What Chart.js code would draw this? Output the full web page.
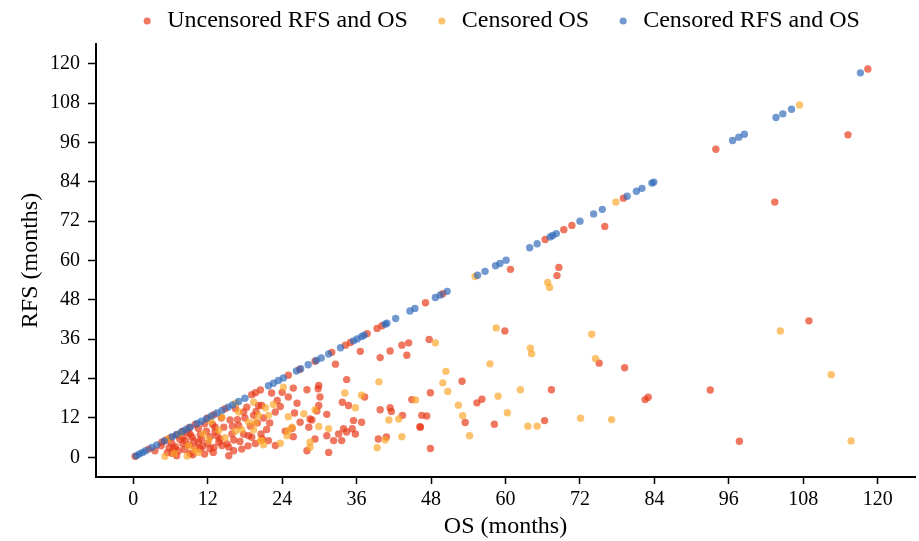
<!DOCTYPE html>
<html>
<head>
<meta charset="utf-8">
<script src="https://cdn.jsdelivr.net/npm/chart.js@4.4.1/dist/chart.umd.min.js"></script>
<style>
  html, body { margin: 0; padding: 0; background: #ffffff; }
  #wrap { width: 919px; height: 541px; position: relative; }
</style>
</head>
<body>
<div id="wrap"><canvas id="c" width="919" height="541"></canvas></div>
<script>
// ---- Data (months): [OS, RFS] ----
const seriesNames = ["Uncensored RFS and OS", "Censored OS", "Censored RFS and OS"];
const tickValues = [0, 12, 24, 36, 48, 60, 72, 84, 96, 108, 120];

const uncensoredPts = [
  [0.3,0.3],[2.5,2.5],[4.6,4.6],[5.3,5.3],[6.0,6.0],[8.0,8.0],[9.0,9.0],[10.0,10.0],[12.0,12.0],[13.0,13.0],
  [14.8,14.8],[19.1,19.1],[19.7,19.7],[20.5,20.5],[25.0,25.0],[26.8,26.8],[29.3,29.3],[32.0,32.0],[34.2,34.2],
  [35.0,35.0],[37.7,37.7],[39.3,39.3],[40.1,40.1],[47.1,47.1],[49.9,49.9],[66.4,66.4],[69.4,69.4],[70.7,70.7],
  [79.0,79.0],[93.9,93.9],[118.4,118.4],
  [7.0,0.5],[9.2,1.2],[7.3,2.0],[6.5,2.6],[6.2,4.3],[8.0,4.1],[8.4,5.1],[10.0,3.1],[10.8,2.6],[12.4,2.6],
  [10.5,4.6],[12.4,6.3],[9.5,6.1],[8.0,6.1],[14.0,5.6],[14.3,3.6],[15.4,3.1],[15.4,0.5],[15.9,7.1],[15.1,4.1],
  [14.6,9.2],[15.6,11.4],[17.0,9.7],[18.0,12.0],[19.4,12.8],[18.6,6.6],[19.1,6.1],[20.2,15.8],[18.3,15.3],
  [16.5,14.8],[20.6,7.1],[13.2,9.2],
  [4.5,3.5],[5.5,1.5],[6.8,3.2],[7.5,5.5],[9.0,3.8],[9.8,5.0],[11.0,5.5],[11.5,1.0],[12.0,4.2],[13.0,3.0],
  [13.5,6.5],[11.8,8.0],[10.5,8.8],[12.8,10.0],[14.2,12.0],[16.2,5.3],[17.5,2.5],[17.8,7.0],[20.0,10.5],
  [18.9,9.5],[16.8,11.5],[8.8,7.5],[7.0,6.8],
  [3.5,2.0],[5.8,3.0],[6.3,1.2],[8.3,2.4],[9.6,0.8],[11.2,3.4],[12.9,1.5],[13.8,4.6],[16.2,2.0],[17.2,4.8],
  [18.5,3.5],[19.7,4.2],[21.5,8.5],[22.0,10.5],[13.2,7.8],[10.8,6.8],[16.0,9.5],[17.8,13.8],[19.8,14.0],
  [21.0,12.0],[11.5,10.2],[9.2,7.0],
  [36.6,32.3],[39.8,30.4],[41.4,32.4],[43.3,34.2],[44.4,34.9],[44.1,31.1],[34.4,23.7],[44.9,17.6],[29.9,21.9],
  [29.8,20.9],[28.0,20.6],[25.8,21.1],[24.0,19.8],[22.3,19.6],[25.0,18.4],[26.4,16.5],[30.1,18.4],[29.9,15.8],
  [23.2,17.3],[23.7,15.5],[20.7,15.8],[33.7,16.8],[34.7,15.8],[29.6,14.1],[31.2,13.1],[26.0,13.5],[22.9,13.8],
  [28.5,11.7],[28.8,11.4],[26.9,10.7],[25.6,8.8],[28.3,9.2],[33.9,8.7],[35.3,8.7],[35.5,11.2],[36.8,10.7],
  [33.1,7.1],[34.4,7.7],[31.2,6.6],[33.6,5.1],[35.8,7.1],[32.3,5.1],[29.3,5.6],[28.0,2.0],[31.5,1.5],[25.8,6.3],
  [22.9,3.6],[21.8,5.1],[20.8,5.6],[39.8,14.5],[41.4,15.1],[41.6,14.0],[43.4,12.8],[39.5,5.6],[40.8,6.2],
  [46.3,9.2],[46.5,12.8],[37.3,18.4],[32.6,28.4],[24.5,8.0],
  [47.7,35.9],[53.0,23.2],[47.9,19.7],[67.4,20.6],[56.2,17.7],[55.4,16.6],[53.5,10.6],[47.3,12.6],[46.2,9.3],
  [58.2,10.1],[66.3,11.2],[47.9,2.7],[59.9,38.5],
  [75.1,28.7],[79.2,27.3],[82.5,17.6],[83.0,18.3],[93.0,20.5],[97.7,4.9],[108.9,41.6],
  [60.8,57.3],[76.0,70.4],[68.6,57.9],[68.3,55.4],[103.4,77.8],[115.2,98.3]
];

const censoredOSPts = [
  [5.7,5.7],[16.5,16.5],[55.1,55.1],[77.8,77.8],[107.4,107.4],
  [5.1,0.3],[8.7,0.4],[8.9,3.6],[11.3,7.1],[13.8,8.2],[17.5,8.4],[18.6,10.7],[19.7,10.7],[19.4,8.4],[19.4,16.8],
  [17.0,13.8],[20.7,5.1],[14.3,12.2],[10.5,1.5],[12.5,11.0],[7.5,7.2],
  [6.6,1.2],[14.8,6.0],[16.5,8.0],[12.2,5.3],[20.2,12.8],[9.8,2.2],
  [24.2,21.4],[39.6,23.0],[34.1,19.6],[36.8,18.9],[22.6,16.1],[35.8,15.1],[29.3,14.5],[27.5,13.3],[21.3,15.1],
  [21.8,12.8],[25.0,12.4],[25.6,9.2],[25.0,8.2],[29.9,9.4],[31.5,8.7],[28.5,4.6],[28.5,3.1],[24.8,6.6],[23.7,4.3],
  [20.5,5.1],[21.0,3.8],[41.2,11.4],[42.8,11.7],[43.3,6.3],[40.6,5.3],[39.3,2.9],
  [58.5,39.4],[48.7,34.9],[64.0,33.3],[64.2,31.6],[57.5,28.5],[50.4,26.2],[49.9,22.7],[50.7,20.1],[45.5,17.5],
  [62.4,20.6],[58.8,18.6],[52.4,15.9],[60.3,13.6],[53.1,12.7],[63.6,9.5],[65.1,9.5],[54.2,6.6],[72.1,11.9],
  [73.9,37.5],[74.5,30.1],[77.1,11.5],[104.3,38.5],[112.5,25.2],[115.7,5.0],[66.8,53.3],[67.1,51.8]
];

const censoredBothPts = [
  [0.5,0.5],[1.0,1.0],[1.5,1.5],[2.0,2.0],[3.0,3.0],[3.8,3.8],[5.0,5.0],[6.3,6.3],[7.0,7.0],[7.8,7.8],
  [8.5,8.5],[9.2,9.2],[10.3,10.3],[11.0,11.0],[11.8,11.8],[12.6,12.6],[13.5,13.5],[14.3,14.3],[15.3,15.3],
  [16.0,16.0],[17.0,17.0],[18.0,18.0],[21.8,21.8],[22.6,22.6],[23.4,23.4],[24.2,24.2],[26.3,26.3],[27.0,27.0],
  [28.2,28.2],[29.5,29.5],[30.3,30.3],[31.5,31.5],[33.4,33.4],[35.5,35.5],[36.1,36.1],[36.8,36.8],[37.2,37.2],
  [40.6,40.6],[40.9,40.9],[42.3,42.3],[44.6,44.6],[45.4,45.4],[48.7,48.7],[49.5,49.5],[50.6,50.6],[55.5,55.5],
  [56.7,56.7],[58.4,58.4],[59.1,59.1],[60.1,60.1],[63.9,63.9],[65.1,65.1],[67.2,67.2],[67.6,67.6],[68.2,68.2],
  [72.0,72.0],[74.2,74.2],[75.6,75.6],[79.6,79.6],[81.1,81.1],[82.0,82.0],[83.6,83.6],[83.9,83.9],[96.6,96.6],
  [97.6,97.6],[98.5,98.5],[103.6,103.6],[104.7,104.7],[106.1,106.1],[117.2,117.2]
];

const toXY = arr => arr.map(p => ({x: p[0], y: p[1]}));
const FONT = "'Liberation Serif', 'Times New Roman', serif";

// Centre the legend over the axes area (as in the reference) and place it at the top.
const legendPlacement = {
  id: 'legendPlacement',
  afterLayout(chart) {
    const L = chart.legend;
    if (!L) return;
    L.left = 84; L.right = 915;
    L.top = -17; L.bottom = 45;
  }
};

new Chart(document.getElementById('c'), {
  type: 'scatter',
  plugins: [legendPlacement],
  data: {
    datasets: [
      { label: seriesNames[0], data: toXY(uncensoredPts), backgroundColor: 'rgba(231,55,20,0.68)', pointRadius: 3.7, pointBorderWidth: 0, order: 2 },
      { label: seriesNames[1], data: toXY(censoredOSPts), backgroundColor: 'rgba(252,165,40,0.68)', pointRadius: 3.7, pointBorderWidth: 0, order: 1 },
      { label: seriesNames[2], data: toXY(censoredBothPts), backgroundColor: 'rgba(45,105,185,0.68)', pointRadius: 3.7, pointBorderWidth: 0, order: 0 }
    ]
  },
  options: {
    responsive: false,
    animation: false,
    layout: { padding: { top: -16, right: 4, left: 0, bottom: 0 } },
    plugins: {
      tooltip: { enabled: false },
      legend: {
        position: 'top',
        labels: {
          usePointStyle: true, pointStyle: 'circle',
          boxWidth: 16, boxHeight: 5, padding: 26,
          color: '#000', font: { family: FONT, size: 24 },
          sort: (a, b) => a.datasetIndex - b.datasetIndex
        }
      }
    },
    scales: {
      x: {
        type: 'linear', min: -6, max: 126,
        afterBuildTicks: s => { s.ticks = tickValues.map(v => ({value: v})); },
        afterFit: s => { s.height = 64; },
        grid: { drawOnChartArea: false, drawTicks: true, tickLength: 7, tickWidth: 1.5, tickColor: '#000' },
        border: { display: true, color: '#000', width: 2 },
        ticks: { color: '#000', font: { family: FONT, size: 20 }, padding: 4, maxRotation: 0 },
        title: { display: true, text: 'OS (months)', color: '#000', font: { family: FONT, size: 24 }, padding: { top: 0, bottom: 0 } }
      },
      y: {
        type: 'linear', min: -6, max: 126,
        afterBuildTicks: s => { s.ticks = tickValues.map(v => ({value: v})); },
        afterFit: s => { s.width = 96; },
        grid: { drawOnChartArea: false, drawTicks: true, tickLength: 8, tickWidth: 1.5, tickColor: '#000' },
        border: { display: true, color: '#000', width: 2 },
        ticks: { color: '#000', font: { family: FONT, size: 20 }, padding: 8 },
        title: { display: true, text: 'RFS (months)', color: '#000', font: { family: FONT, size: 24 }, padding: { top: 16, bottom: 0 } }
      }
    }
  }
});
</script>
</body>
</html>
